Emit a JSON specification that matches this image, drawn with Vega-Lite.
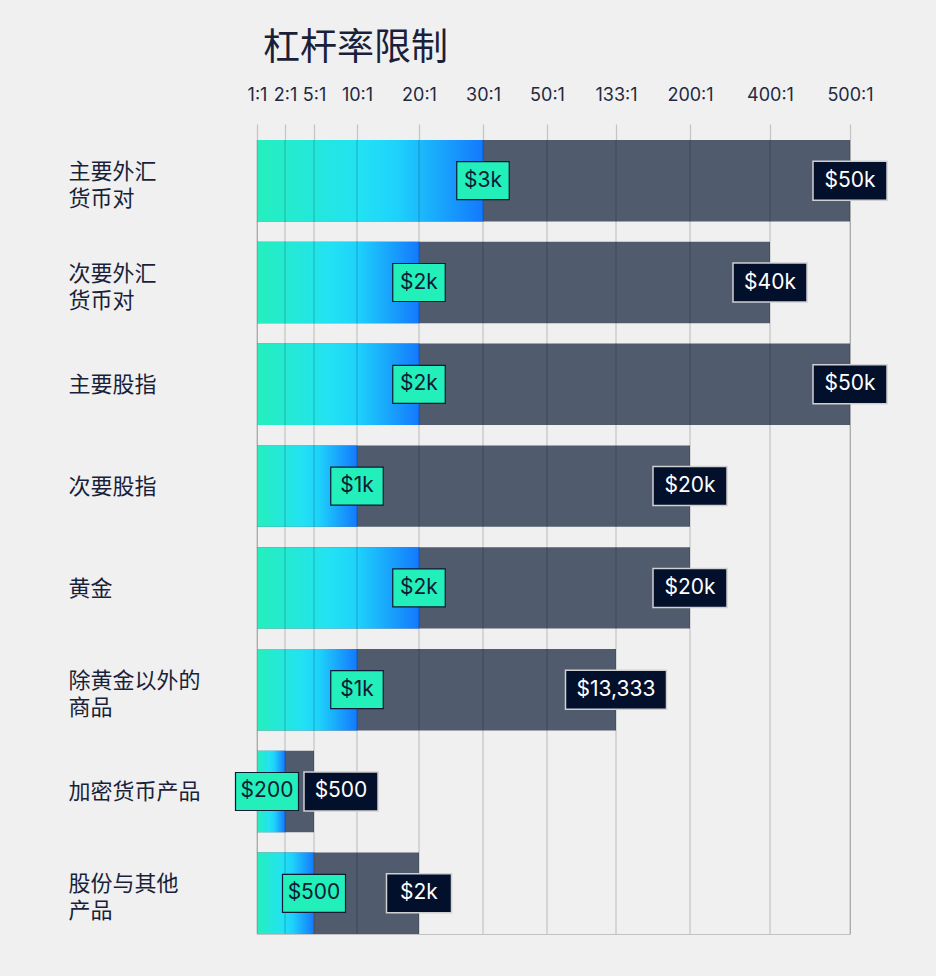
{
  "$schema": "https://vega.github.io/schema/vega-lite/v6.json",
  "width": 593,
  "height": 794,
  "autosize": {"type": "none"},
  "padding": {"left": 257, "top": 140, "right": 86, "bottom": 42},
  "background": "#f0f0f0",
  "title": {
    "text": "杠杆率限制",
    "anchor": "start",
    "frame": "group",
    "font": "Noto Sans CJK SC",
    "fontSize": 37,
    "fontWeight": "normal",
    "color": "#1a1f3a",
    "dx": 6,
    "offset": 18
  },
  "config": {
    "view": {"stroke": "#c2c2c2", "strokeWidth": 1},
    "font": "Inter",
    "axisX": {
      "labelOverlap": false,
      "labelFlush": false,
      "labelBound": false,
      "labelFont": "Inter",
      "labelFontSize": 18,
      "labelColor": "#222a3f",
      "labelPadding": 20,
      "domain": false,
      "grid": false,
      "ticks": true,
      "tickSize": 16,
      "tickColor": "#c4c4c4",
      "tickWidth": 1.2
    },
    "axisY": {
      "domain": false,
      "ticks": false,
      "grid": false,
      "labelAlign": "left",
      "labelBaseline": "middle",
      "labelPadding": 189,
      "labelFont": "Noto Sans CJK SC",
      "labelFontSize": 22,
      "labelLineHeight": 27,
      "labelColor": "#1a1f3a",
      "labelLimit": 300
    }
  },
  "datasets": {
    "rows": [
      {"cat": "主要外汇\n货币对", "lo": 30, "hi": 500, "loLabel": "$3k", "hiLabel": "$50k"},
      {"cat": "次要外汇\n货币对", "lo": 20, "hi": 400, "loLabel": "$2k", "hiLabel": "$40k"},
      {"cat": "主要股指", "lo": 20, "hi": 500, "loLabel": "$2k", "hiLabel": "$50k"},
      {"cat": "次要股指", "lo": 10, "hi": 200, "loLabel": "$1k", "hiLabel": "$20k"},
      {"cat": "黄金", "lo": 20, "hi": 200, "loLabel": "$2k", "hiLabel": "$20k"},
      {"cat": "除黄金以外的\n商品", "lo": 10, "hi": 133, "loLabel": "$1k", "hiLabel": "$13,333"},
      {"cat": "加密货币产品", "lo": 2, "hi": 5, "loLabel": "$200", "hiLabel": "$500"},
      {"cat": "股份与其他\n产品", "lo": 5, "hi": 20, "loLabel": "$500", "hiLabel": "$2k"}
    ],
    "ticks": [
      {"v": 1}, {"v": 2}, {"v": 5}, {"v": 10}, {"v": 20}, {"v": 30},
      {"v": 50}, {"v": 133}, {"v": 200}, {"v": 400}, {"v": 500}
    ]
  },
  "data": {"name": "rows"},
  "layer": [
    {
      "mark": {"type": "bar", "color": "#505b6e"},
      "encoding": {
        "x": {
          "field": "hi",
          "type": "quantitative",
          "scale": {
            "domain": [1, 2, 5, 10, 20, 30, 50, 133, 200, 400, 500],
            "range": [0, 28, 57, 100, 162, 226, 290, 359, 433, 513, 593],
            "nice": false,
            "zero": false
          },
          "axis": {"orient": "top", "title": null, "values": [1, 2, 5, 10, 20, 30, 50, 133, 200, 400, 500], "labelExpr": "datum.value + ':1'"}
        },
        "x2": {"datum": 1},
        "y": {
          "field": "cat",
          "type": "nominal",
          "sort": null,
          "scale": {"paddingInner": 0.2, "paddingOuter": 0},
          "axis": {"title": null, "labelExpr": "split(datum.label, '\\n')", "labelOffset": {"condition": {"test": "indexof(datum.label, '\\n') >= 0", "value": -9}, "value": 1}}
        }
      }
    },
    {
      "mark": {
        "type": "bar",
        "color": {
          "gradient": "linear",
          "x1": 0, "x2": 1, "y1": 0, "y2": 0,
          "stops": [
            {"offset": 0, "color": "#25efbd"},
            {"offset": 0.45, "color": "#22e2f3"},
            {"offset": 0.62, "color": "#1ed2fb"},
            {"offset": 1, "color": "#1479fd"}
          ]
        }
      },
      "encoding": {
        "x": {
          "field": "lo",
          "type": "quantitative",
          "scale": {
            "domain": [1, 2, 5, 10, 20, 30, 50, 133, 200, 400, 500],
            "range": [0, 28, 57, 100, 162, 226, 290, 359, 433, 513, 593],
            "nice": false,
            "zero": false
          },
          "axis": {"orient": "top", "title": null, "values": [1, 2, 5, 10, 20, 30, 50, 133, 200, 400, 500], "labelExpr": "datum.value + ':1'"}
        },
        "x2": {"datum": 1},
        "y": {
          "field": "cat",
          "type": "nominal",
          "sort": null,
          "scale": {"paddingInner": 0.2, "paddingOuter": 0},
          "axis": {"title": null, "labelExpr": "split(datum.label, '\\n')", "labelOffset": {"condition": {"test": "indexof(datum.label, '\\n') >= 0", "value": -9}, "value": 1}}
        }
      }
    },
    {
      "data": {"name": "ticks"},
      "mark": {"type": "rule", "color": "#000000", "opacity": 0.19, "strokeWidth": 1.2},
      "encoding": {
        "x": {
          "field": "v",
          "type": "quantitative",
          "scale": {
            "domain": [1, 2, 5, 10, 20, 30, 50, 133, 200, 400, 500],
            "range": [0, 28, 57, 100, 162, 226, 290, 359, 433, 513, 593],
            "nice": false,
            "zero": false
          },
          "axis": {"orient": "top", "title": null, "values": [1, 2, 5, 10, 20, 30, 50, 133, 200, 400, 500], "labelExpr": "datum.value + ':1'"}
        }
      }
    },
    {
      "mark": {
        "type": "bar",
        "height": 38,
        "fill": "#22efb9",
        "stroke": "#0c1a33",
        "strokeWidth": 1.2,
        "xOffset": {"expr": "-(length(datum.loLabel) * 10.5 + 21) / 2 + (datum.cat === '加密货币产品' ? -18 : 0)"},
        "x2Offset": {"expr": "(length(datum.loLabel) * 10.5 + 21) / 2 + (datum.cat === '加密货币产品' ? -18 : 0)"}
      },
      "encoding": {
        "x": {
          "field": "lo",
          "type": "quantitative",
          "scale": {
            "domain": [1, 2, 5, 10, 20, 30, 50, 133, 200, 400, 500],
            "range": [0, 28, 57, 100, 162, 226, 290, 359, 433, 513, 593],
            "nice": false,
            "zero": false
          },
          "axis": {"orient": "top", "title": null, "values": [1, 2, 5, 10, 20, 30, 50, 133, 200, 400, 500], "labelExpr": "datum.value + ':1'"}
        },
        "x2": {"field": "lo"},
        "y": {
          "field": "cat",
          "type": "nominal",
          "sort": null,
          "scale": {"paddingInner": 0.2, "paddingOuter": 0},
          "axis": {"title": null, "labelExpr": "split(datum.label, '\\n')", "labelOffset": {"condition": {"test": "indexof(datum.label, '\\n') >= 0", "value": -9}, "value": 1}}
        }
      }
    },
    {
      "mark": {
        "type": "text",
        "font": "Inter",
        "fontSize": 21,
        "color": "#0d1b35",
        "align": "center",
        "baseline": "middle",
        "dx": {"expr": "datum.cat === '加密货币产品' ? -18 : 0"}
      },
      "encoding": {
        "x": {
          "field": "lo",
          "type": "quantitative",
          "scale": {
            "domain": [1, 2, 5, 10, 20, 30, 50, 133, 200, 400, 500],
            "range": [0, 28, 57, 100, 162, 226, 290, 359, 433, 513, 593],
            "nice": false,
            "zero": false
          },
          "axis": {"orient": "top", "title": null, "values": [1, 2, 5, 10, 20, 30, 50, 133, 200, 400, 500], "labelExpr": "datum.value + ':1'"}
        },
        "y": {
          "field": "cat",
          "type": "nominal",
          "sort": null,
          "scale": {"paddingInner": 0.2, "paddingOuter": 0},
          "axis": {"title": null, "labelExpr": "split(datum.label, '\\n')", "labelOffset": {"condition": {"test": "indexof(datum.label, '\\n') >= 0", "value": -9}, "value": 1}}
        },
        "text": {"field": "loLabel"}
      }
    },
    {
      "mark": {
        "type": "bar",
        "height": 39,
        "fill": "#03102b",
        "stroke": "#d0d0d0",
        "strokeWidth": 1.5,
        "xOffset": {"expr": "-(length(datum.hiLabel) * 9 + 38) / 2 + (datum.cat === '加密货币产品' ? 27 : 0)"},
        "x2Offset": {"expr": "(length(datum.hiLabel) * 9 + 38) / 2 + (datum.cat === '加密货币产品' ? 27 : 0)"}
      },
      "encoding": {
        "x": {
          "field": "hi",
          "type": "quantitative",
          "scale": {
            "domain": [1, 2, 5, 10, 20, 30, 50, 133, 200, 400, 500],
            "range": [0, 28, 57, 100, 162, 226, 290, 359, 433, 513, 593],
            "nice": false,
            "zero": false
          },
          "axis": {"orient": "top", "title": null, "values": [1, 2, 5, 10, 20, 30, 50, 133, 200, 400, 500], "labelExpr": "datum.value + ':1'"}
        },
        "x2": {"field": "hi"},
        "y": {
          "field": "cat",
          "type": "nominal",
          "sort": null,
          "scale": {"paddingInner": 0.2, "paddingOuter": 0},
          "axis": {"title": null, "labelExpr": "split(datum.label, '\\n')", "labelOffset": {"condition": {"test": "indexof(datum.label, '\\n') >= 0", "value": -9}, "value": 1}}
        }
      }
    },
    {
      "mark": {
        "type": "text",
        "font": "Inter",
        "fontSize": 21,
        "color": "#ffffff",
        "align": "center",
        "baseline": "middle",
        "dx": {"expr": "datum.cat === '加密货币产品' ? 27 : 0"}
      },
      "encoding": {
        "x": {
          "field": "hi",
          "type": "quantitative",
          "scale": {
            "domain": [1, 2, 5, 10, 20, 30, 50, 133, 200, 400, 500],
            "range": [0, 28, 57, 100, 162, 226, 290, 359, 433, 513, 593],
            "nice": false,
            "zero": false
          },
          "axis": {"orient": "top", "title": null, "values": [1, 2, 5, 10, 20, 30, 50, 133, 200, 400, 500], "labelExpr": "datum.value + ':1'"}
        },
        "y": {
          "field": "cat",
          "type": "nominal",
          "sort": null,
          "scale": {"paddingInner": 0.2, "paddingOuter": 0},
          "axis": {"title": null, "labelExpr": "split(datum.label, '\\n')", "labelOffset": {"condition": {"test": "indexof(datum.label, '\\n') >= 0", "value": -9}, "value": 1}}
        },
        "text": {"field": "hiLabel"}
      }
    }
  ]
}
